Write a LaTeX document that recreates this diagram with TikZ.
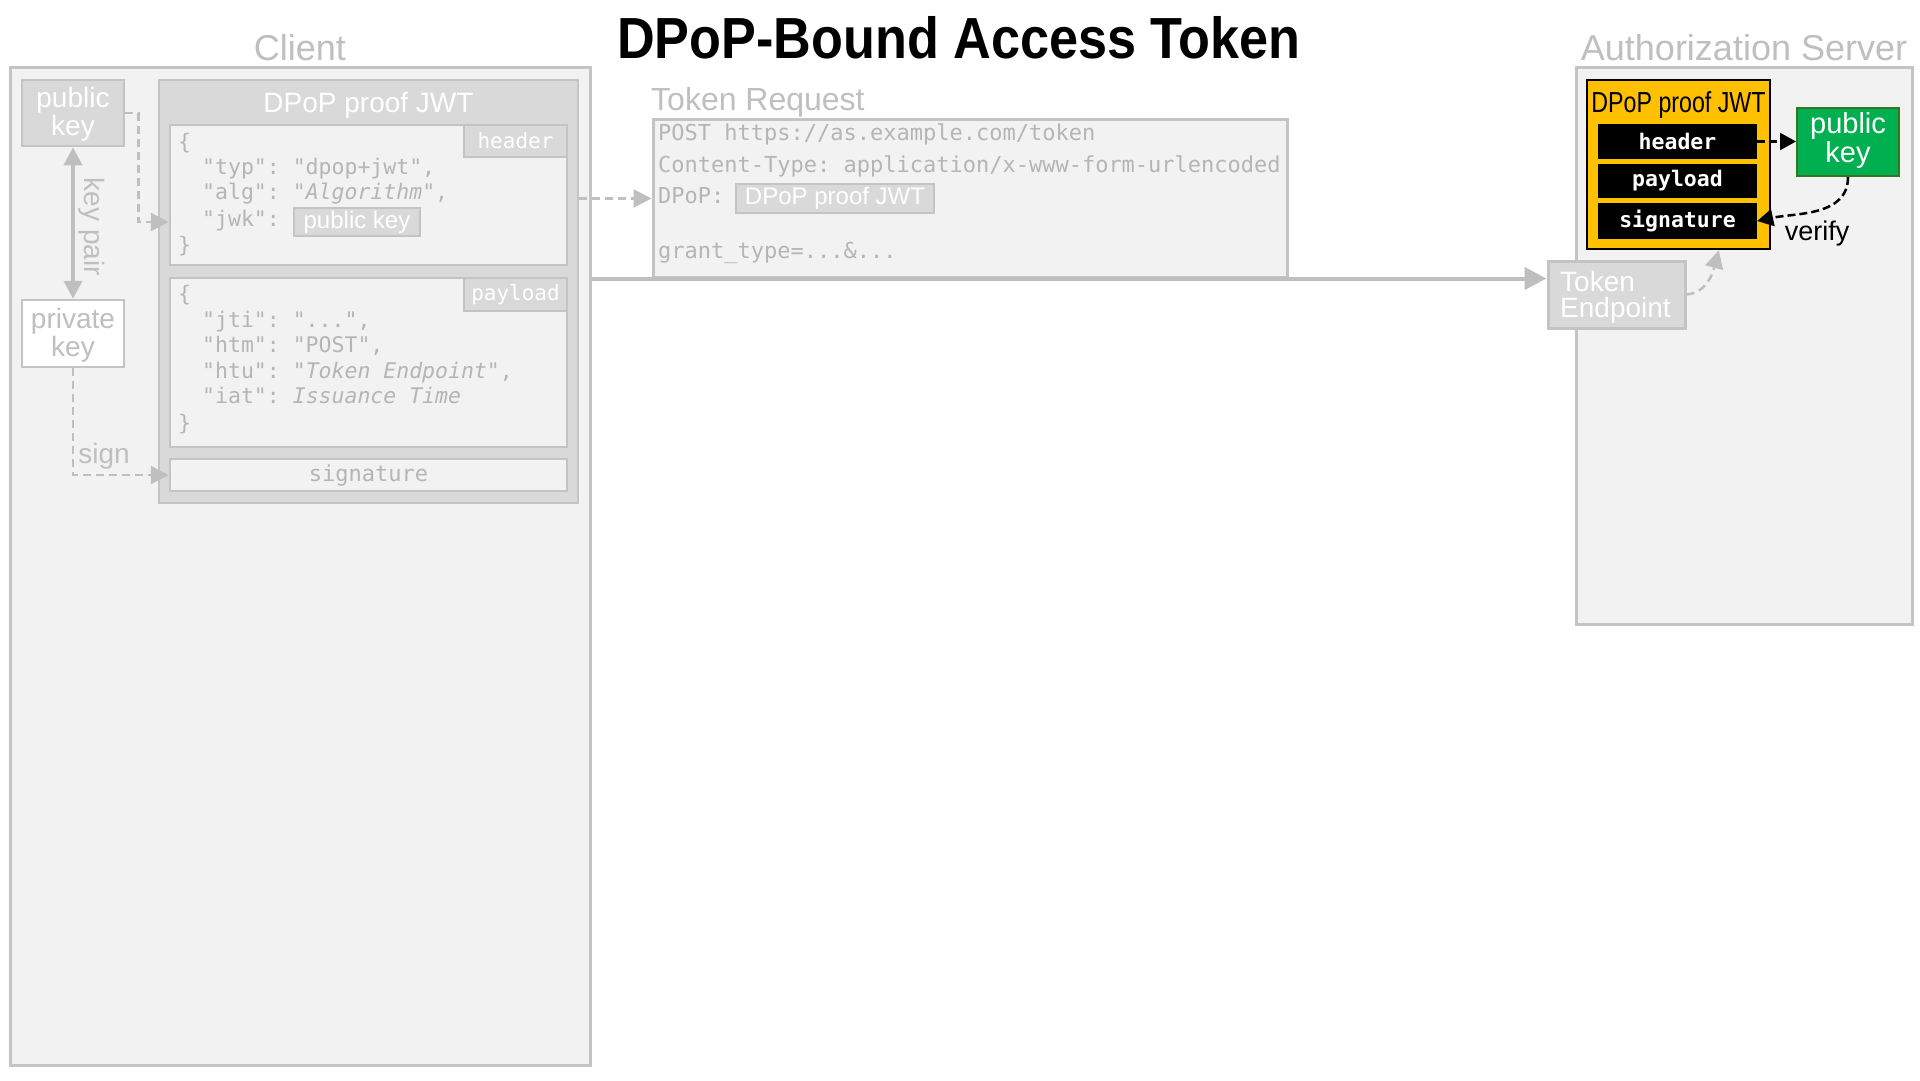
\documentclass[tikz,border=0pt]{standalone}
\usepackage{fontspec}
\setmainfont{Liberation Sans}
\setmonofont{DejaVu Sans Mono}
\newfontfamily\condf[FakeStretch=0.8]{Liberation Sans}
\newfontfamily\titlef[FakeStretch=0.9]{Liberation Sans}
\usetikzlibrary{arrows.meta,calc}
\definecolor{lg}{HTML}{F2F2F2}
\definecolor{mg}{HTML}{D9D9D9}
\definecolor{bd}{HTML}{C4C4C4}
\definecolor{tg}{HTML}{BFBFBF}
\definecolor{cg}{HTML}{B5B5B5}
\definecolor{yel}{HTML}{FFC000}
\definecolor{grn}{HTML}{00B050}
\definecolor{grnb}{HTML}{38761D}
\tikzset{
  box/.style={draw=bd, line width=3pt, fill=lg, inner sep=0pt},
  midbox/.style={draw=bd, line width=2.5pt, fill=mg, inner sep=0pt},
  litebox/.style={draw=bd, line width=2.5pt, fill=lg, inner sep=0pt},
  lbl/.style={font=\fontsize{36}{36}\selectfont, text=tg, inner sep=0pt, anchor=base},
  sans/.style={font=\fontsize{28}{26}\selectfont, inner sep=0pt},
  code/.style={font=\ttfamily\fontsize{21.5}{21.5}\selectfont, text=cg, inner sep=0pt, anchor=west, text height=16.1pt, text depth=5.4pt},
  rcode/.style={font=\ttfamily\fontsize{22}{22}\selectfont, text=cg, inner sep=0pt, anchor=west, text height=16.5pt, text depth=5.5pt},
  tagt/.style={font=\ttfamily\fontsize{21}{21}\selectfont, text=white},
  bar/.style={fill=black, draw=none, inner sep=0pt, minimum width=159pt, font=\ttfamily\bfseries\fontsize{21.5}{21.5}\selectfont, text=white},
  gtip/.style={-{Triangle[length=18pt,width=18pt]}},
  gdash/.style={draw=tg, line width=2.5pt, dash pattern=on 8pt off 5pt, gtip},
  bdash/.style={draw=black, line width=2.5pt, dash pattern=on 8pt off 4pt, -{Triangle[length=16pt,width=17pt]}},
}
\begin{document}
\begin{tikzpicture}[x=1pt,y=-1pt]
\useasboundingbox[fill=white] (0,0) rectangle (1920,1080);

% ---------- title
\node[font=\titlef\bfseries\fontsize{58}{58}\selectfont, anchor=base, inner sep=0pt] (title) at (959,58) {DPoP-Bound Access Token};

% ---------- Client
\node[lbl] (clientlbl) at (300,60) {Client};
\node[box, minimum width=580pt, minimum height=998pt] (client) at (300,566) {};

\node[midbox, minimum width=102pt, minimum height=66pt] (pubC) at (73,113) {};
\node[sans, text=white, align=center, anchor=base] (pubCt) at (73,135) {public\\key};
\node[box, fill=white, line width=2.5pt, minimum width=102pt, minimum height=67pt] (privC) at (73,333.5) {};
\node[sans, text=tg, align=center, anchor=base] (privCt) at (73,356) {private\\key};

\node[midbox, minimum width=419pt, minimum height=423pt] (jwtC) at (368.5,291.5) {};
\node[sans, text=white, anchor=base] (jwtCt) at (368.5,112) {DPoP proof JWT};

\node[litebox, minimum width=397pt, minimum height=140pt] (hdr) at (368.5,195) {};
\node[midbox, minimum width=103pt, minimum height=32pt, tagt] (hdrtag) at (515.5,141) {header};
\node[code] (h0) at (178,144) {\{};
\node[code] (h1) at (202,169) {"typ": "dpop+jwt",};
\node[code] (h2) at (202,194) {"alg": "\textit{Algorithm}",};
\node[code] (h3) at (202,221) {"jwk":};
\node[midbox, minimum width=126pt, minimum height=28pt, font=\fontsize{24}{24}\selectfont, text=white] (pkin) at (357,222) {public key};
\node[code] (h4) at (178,247) {\}};

\node[litebox, minimum width=397pt, minimum height=169pt] (pay) at (368.5,362.5) {};
\node[midbox, minimum width=103pt, minimum height=33pt, tagt] (paytag) at (515.5,294.5) {payload};
\node[code] (p0) at (178,296) {\{};
\node[code] (p1) at (202,322) {"jti": "...",};
\node[code] (p2) at (202,347) {"htm": "POST",};
\node[code] (p3) at (202,373) {"htu": "\textit{Token Endpoint}",};
\node[code] (p4) at (202,398) {"iat": \textit{Issuance Time}};
\node[code] (p5) at (178,425) {\}};

\node[litebox, minimum width=397pt, minimum height=32pt, font=\ttfamily\fontsize{22}{22}\selectfont, text=cg] (sig) at (368.5,475) {signature};

% key pair / sign
\draw[draw=tg, line width=4pt, {Triangle[length=18pt,width=18pt]}-{Triangle[length=18pt,width=18pt]}] (pubC.south) -- (privC.north);
\node[sans, text=tg, rotate=-90] (kp) at (92,227) {key pair};
\draw[gdash] (pubC.east) -- ++(13,0) |- (hdr.west |- pkin.center);
\draw[gdash] (privC.south) |- (sig.west);
\node[sans, text=tg, anchor=base] (signlbl) at (104,463) {sign};

% ---------- Token request
\node[font=\fontsize{32}{32}\selectfont, text=tg, inner sep=0pt, anchor=base west] (trlbl) at (651,110) {Token Request};
\node[box, minimum width=634pt, minimum height=158pt] (tr) at (970,198) {};
\node[rcode] (t1) at (658,135) {POST https://as.example.com/token};
\node[rcode] (t2) at (658,167) {Content-Type: application/x-www-form-urlencoded};
\node[rcode] (t3) at (658,198) {DPoP:};
\node[midbox, minimum width=198pt, minimum height=29pt, font=\fontsize{24}{24}\selectfont, text=white] (dpopin) at (835,198.5) {DPoP proof JWT};
\node[rcode] (t4) at (658,253) {grant\_type=...\&...};

\draw[gdash] (jwtC.east |- dpopin.center) -- (tr.west |- dpopin.center);

% ---------- Authorization server
\node[lbl] (aslbl) at (1744,60) {Authorization Server};
\node[box, minimum width=336pt, minimum height=557pt] (as) at (1744,345.5) {};

\node[draw=black, line width=2.5pt, fill=yel, inner sep=0pt, minimum width=183pt, minimum height=169pt] (yel) at (1678.5,164.5) {};
\node[font=\condf\fontsize{29}{29}\selectfont, inner sep=0pt, anchor=base] (yelt) at (1678.5,112) {DPoP proof JWT};
\node[bar, minimum height=35pt] (hbar) at (1677.5,141.5) {header};
\node[bar, minimum height=34pt] (pbar) at (1677.5,181) {payload};
\node[bar, minimum height=36pt] (sbar) at (1677.5,221) {signature};

\node[draw=grnb, line width=2pt, fill=grn, inner sep=0pt, minimum width=102pt, minimum height=68pt] (grn) at (1848,142) {};
\node[font=\fontsize{29}{25}\selectfont, text=white, align=center, anchor=base, inner sep=0pt] (grnt) at (1848,162) {public\\key};

\draw[bdash] (hbar.east) -- (grn.west |- hbar.east);
\draw[bdash] (grn.south) to[out=-90,in=12] (sbar.east);
\node[font=\fontsize{27}{27}\selectfont, anchor=base, inner sep=0pt] (verify) at (1817,240) {verify};

% ---------- main arrow and token endpoint
\node[midbox, line width=3pt, minimum width=137pt, minimum height=67pt] (te) at (1616.5,294.5) {};
\node[sans, text=white, align=left, anchor=base west] (tet) at (1560,317) {Token\\Endpoint};
\draw[draw=tg, line width=4pt, -{Triangle[length=22pt,width=22pt]}] (client.east |- tr.south) -- (te.west |- tr.south);
\coordinate (yelin) at ($(yel.south west)+(133,0)$);
\draw[gdash] (te.east) to[out=5,in=-105] (yelin);
\end{tikzpicture}
\end{document}
